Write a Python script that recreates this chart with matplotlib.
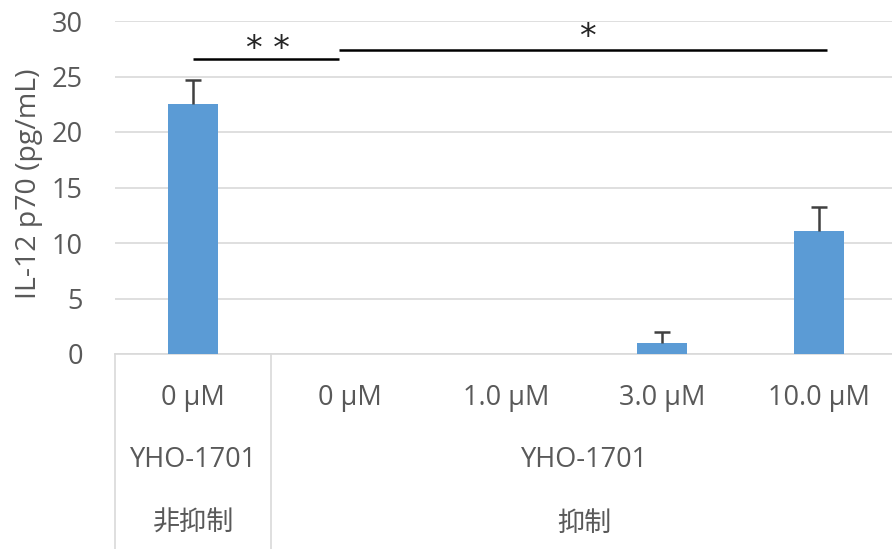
import matplotlib
matplotlib.use("Agg")
import matplotlib.pyplot as plt
import matplotlib.transforms as mtransforms

# Data
doses = ["0 μM", "0 μM", "1.0 μM", "3.0 μM", "10.0 μM"]
values = [22.5, 0.0, 0.0, 1.0, 11.1]
errors = [2.2, 0.0, 0.0, 1.0, 2.1]
compound_labels = ["YHO-1701", "YHO-1701"]
group_labels = ["非抑制", "抑制"]
group_spans = [(0, 0), (1, 4)]
# significance brackets: (x start, x end, y, label x, label y, label)
sig_marks = [
    (0.0, 0.93, 26.6, 0.48, 27.4, "* *"),
    (0.93, 4.05, 27.4, 2.52, 28.5, "*"),
]

plt.rcParams["font.family"] = ["Open Sans", "DejaVu Sans"]
text_color = "#595959"
grid_color = "#d9d9d9"
bar_color = "#5b9bd5"

W, H = 892, 549
fig = plt.figure(figsize=(W / 100, H / 100), dpi=100)
ax = fig.add_axes([115 / W, (H - 354) / H, 782 / W, 333 / H])

x = list(range(len(values)))
ax.bar(x, values, width=0.32, color=bar_color, zorder=3)
for xi, v, e in zip(x, values, errors):
    if e > 0:
        ax.errorbar([xi], [v], yerr=[[0], [e]], fmt="none", ecolor="#404040",
                    elinewidth=1.8, capsize=0, zorder=4)
        ax.plot([xi], [v + e], marker="_", markersize=12, markeredgewidth=1.8,
                color="#404040", zorder=4)

ax.set_xlim(-0.5, len(values) - 0.5)
ax.set_ylim(0, 30)
ax.set_yticks(range(0, 31, 5))
ax.yaxis.grid(True, color=grid_color, linewidth=1.2, zorder=0)
ax.set_axisbelow(True)
for s in ["top", "right", "left"]:
    ax.spines[s].set_visible(False)
ax.spines["bottom"].set_color(grid_color)
ax.spines["bottom"].set_linewidth(1.2)
ax.tick_params(axis="y", length=0, pad=23, labelsize=19.5, labelcolor=text_color)
ax.set_xticks([])
ax.set_ylabel("IL-12 p70 (pg/mL)", fontsize=20.5, color=text_color)
ax.yaxis.set_label_coords(-72 / 782, 0.51)

# Multi-level category labels
trans = mtransforms.blended_transform_factory(ax.transData, ax.transAxes)
row_y = [(354 - 398) / 333, (354 - 460) / 333, (354 - 523) / 333]
for xi, d in zip(x, doses):
    ax.text(xi, row_y[0], d, transform=trans, ha="center", va="center",
            fontsize=19.5, color=text_color)
for (a, b), lab in zip(group_spans, compound_labels):
    ax.text((a + b) / 2, row_y[1], lab, transform=trans, ha="center", va="center",
            fontsize=19.5, color=text_color)
for (a, b), lab in zip(group_spans, group_labels):
    ax.text((a + b) / 2, row_y[2], lab, transform=trans, ha="center", va="center",
            fontsize=19.5, color=text_color,
            family=["Noto Sans CJK JP", "DejaVu Sans"])

# Vertical separators of the category table
for xs in [-0.5, 0.5]:
    ax.plot([xs, xs], [0, -0.62], transform=trans, color=grid_color,
            linewidth=1.2, clip_on=False, zorder=1)

# Significance brackets
for x0, x1, y, lx, ly, lab in sig_marks:
    ax.plot([x0, x1], [y, y], color="black", linewidth=1.8, zorder=5,
            solid_capstyle="butt")
    ax.text(lx, ly, lab, ha="center", va="center", fontsize=24, color="#262626",
            family=["DejaVu Sans"])

fig.savefig("out.png", dpi=100)
